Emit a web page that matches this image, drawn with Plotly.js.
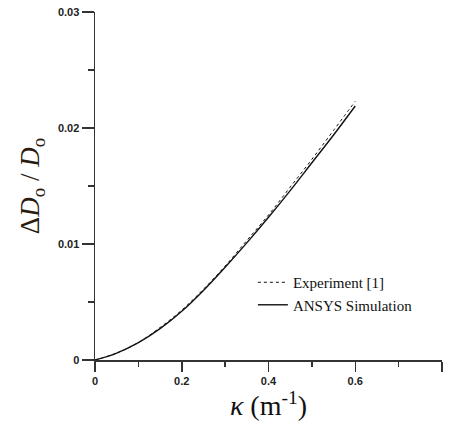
<!DOCTYPE html>
<html>
<head>
<meta charset="utf-8">
<script src="https://cdn.plot.ly/plotly-3.0.1.min.js"></script>
<style>html,body{margin:0;padding:0;background:#fff;}#chart{width:449px;height:425px;}</style>
</head>
<body>
<div id="chart"></div>
<script>
var curvature = [0, 0.05, 0.1, 0.15, 0.2, 0.25, 0.3, 0.35, 0.4, 0.45, 0.5, 0.55, 0.6];
var experiment = [0, 0.0006, 0.0015, 0.0028, 0.0043, 0.0061, 0.0081, 0.0103, 0.0125, 0.0149, 0.0173, 0.0198, 0.0223];
var ansys = [0, 0.0006, 0.0015, 0.0027, 0.0042, 0.0060, 0.0080, 0.0101, 0.0123, 0.0146, 0.0170, 0.0194, 0.0219];
var xTicks = [0, 0.2, 0.4, 0.6, 0.8];
var xTickLabels = ['0', '0.2', '0.4', '0.6', '0.8'];
var yTicks = [0, 0.01, 0.02, 0.03];
var yTickLabels = ['0', '0.01', '0.02', '0.03'];
var seriesNames = ['Experiment [1]', 'ANSYS Simulation'];

var traces = [
  {x: curvature, y: experiment, name: seriesNames[0], mode: 'lines',
   line: {color: '#111', width: 1, dash: 'dot', shape: 'spline'}},
  {x: curvature, y: ansys, name: seriesNames[1], mode: 'lines',
   line: {color: '#111', width: 1.4, shape: 'spline'}}
];

var tickFont = {family: 'Liberation Sans, Arial, sans-serif', size: 11, color: '#222', weight: 'bold'};
var layout = {
  width: 449, height: 425,
  margin: {l: 95, r: 7, t: 12, b: 65},
  paper_bgcolor: '#fff', plot_bgcolor: '#fff',
  showlegend: true,
  legend: {x: 0.455, y: 0.27, xanchor: 'left', yanchor: 'top', bgcolor: 'rgba(0,0,0,0)',
    font: {family: 'Liberation Serif, Times New Roman, serif', size: 15, color: '#111'},
    tracegroupgap: 0, itemwidth: 30},
  xaxis: {range: [0, 0.8], showgrid: false, zeroline: false, showline: true,
    linecolor: '#333', linewidth: 1.5, ticks: 'outside', ticklen: 10, tickwidth: 1.5, tickcolor: '#333',
    tickvals: xTicks, ticktext: xTickLabels, tickfont: tickFont,
    minor: {dtick: 0.1, ticks: 'outside', ticklen: 5, tickwidth: 1.5, tickcolor: '#333', showgrid: false},
    title: {text: '<i>κ</i> (m<sup>-1</sup>)', standoff: 4,
      font: {family: 'Liberation Serif, Times New Roman, serif', size: 28, color: '#111'}}},
  yaxis: {range: [0, 0.03], showgrid: false, zeroline: false, showline: true,
    linecolor: '#333', linewidth: 1.5, ticks: 'outside', ticklen: 12, tickwidth: 1.5, tickcolor: '#333',
    tickvals: yTicks, ticktext: yTickLabels, tickfont: tickFont,
    minor: {dtick: 0.005, ticks: 'outside', ticklen: 6, tickwidth: 1.5, tickcolor: '#333', showgrid: false},
    title: {text: 'Δ<i>D</i><sub>o</sub> / <i>D</i><sub>o</sub>', standoff: 10,
      font: {family: 'Liberation Serif, Times New Roman, serif', size: 27, color: '#2a1a10'}}}
};
Plotly.newPlot('chart', traces, layout, {displayModeBar: false, staticPlot: true});
</script>
</body>
</html>
